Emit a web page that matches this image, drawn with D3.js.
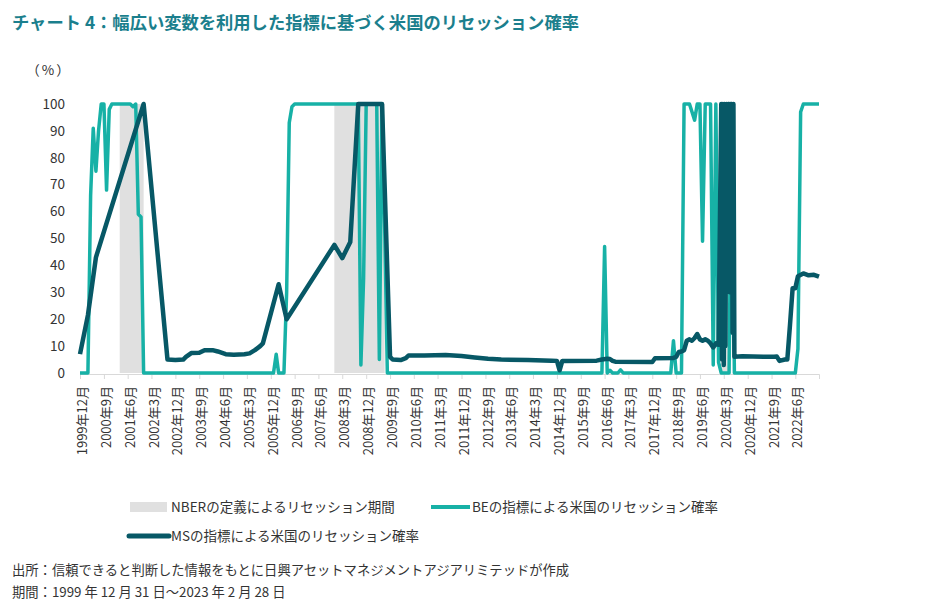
<!DOCTYPE html>
<html>
<head>
<meta charset="utf-8">
<script src="https://cdn.jsdelivr.net/npm/d3@7"></script>
<style>
  body { margin: 0; background: #ffffff; }
  svg { display: block; font-family: "Noto Sans CJK JP", "Noto Sans", sans-serif; }
</style>
</head>
<body>
<svg id="chart" width="945" height="610"></svg>
<script>
// ---------------- DATA ----------------
const titleText = "チャート 4：幅広い変数を利用した指標に基づく米国のリセッション確率";
const yUnitLabel = "（%）";
const yTickValues = [0, 10, 20, 30, 40, 50, 60, 70, 80, 90, 100];
const xTickMonths = ["1999-12","2000-09","2001-06","2002-03","2002-12","2003-09","2004-06","2005-03",
  "2005-12","2006-09","2007-06","2008-03","2008-12","2009-09","2010-06","2011-03","2011-12","2012-09",
  "2013-06","2014-03","2014-12","2015-09","2016-06","2017-03","2017-12","2018-09","2019-06","2020-03",
  "2020-12","2021-09","2022-06"];
const recessionStarts = ["2001-03", "2007-12", "2020-02"];
const recessionEnds   = ["2001-11", "2009-06", "2020-04"];

// BE indicator (teal) – vertices
const beDates = ["1999-12","2000-03","2000-04","2000-05","2000-06","2000-07","2000-08","2000-09","2000-10",
  "2000-11","2000-12","2001-07","2001-08","2001-09","2001-10","2001-11","2001-12","2006-01","2006-02",
  "2006-03","2006-05","2006-06","2006-07","2006-08","2006-09","2008-09","2008-10","2008-11","2008-12",
  "2009-04","2009-05","2009-06","2009-07","2009-08","2016-05","2016-06","2016-07","2016-08","2016-09",
  "2016-11","2016-12","2017-01","2018-07","2018-08","2018-09","2018-11","2018-12","2019-02","2019-04",
  "2019-05","2019-06","2019-07","2019-08","2019-10","2019-11","2019-12","2020-01","2020-02","2020-05",
  "2020-06","2020-07","2022-06","2022-07","2022-08","2022-09","2023-02-28"];
const beValues = [0,0,66,91,75,90,100,100,68,
  98,100,100,99,100,59,58,0,0,7,
  0,0,30,93,99,100,100,3,35,100,
  100,5,100,55,0,0,47,0,1,0,
  0,1.2,0,0,12,0,0,100,100,94,
  100,100,49,100,100,3,100,4,0,0,
  100,0,0,9,97,100,100];

// MS indicator (dark) – vertices
const msDates = ["1999-12","2000-03","2000-06","2001-12","2002-09","2002-12","2003-03","2003-04","2003-06",
  "2003-09","2003-11","2004-02","2004-04","2004-07","2004-10","2005-02","2005-04","2005-06","2005-08",
  "2005-09","2006-03","2006-06","2007-12","2008-03","2008-06","2008-09","2009-06","2009-09","2009-10",
  "2010-01","2010-03","2010-04","2010-10","2011-06","2011-12","2012-05","2012-10","2013-03","2014-01",
  "2014-10","2014-12","2015-01","2015-02","2016-03","2016-05","2016-07","2016-08","2016-09","2016-10",
  "2017-12","2018-01","2018-08","2018-09","2018-10","2018-11","2018-12","2019-01","2019-02","2019-03",
  "2019-04","2019-05","2019-06","2019-07","2019-08","2019-09","2019-10","2019-11","2019-12","2020-01",
  "2020-02","2020-02-10","2020-02-20","2020-03","2020-03-10","2020-03-20","2020-04","2020-04-10",
  "2020-04-20","2020-05","2020-05-10","2020-05-20","2020-06","2020-06-10","2020-06-20","2020-07",
  "2020-10","2021-06","2021-10","2021-11","2021-12","2022-02","2022-03","2022-04","2022-05","2022-06",
  "2022-07","2022-09","2022-11","2023-01","2023-02-28"];
const msValues = [7,21.5,43,100,5,4.8,5,6,7.4,
  7.5,8.5,8.5,8,7,6.8,7,7.3,8.5,10,
  11,33,20,47.6,42.7,48.7,100,100,6,5,
  4.8,5.5,6.5,6.5,6.7,6.3,5.8,5.3,5,4.8,
  4.6,4.5,1,4.5,4.6,5,5.3,5.2,4.5,4.2,
  4.1,5.5,5.6,6,7.8,8,8.5,12,12.5,12,
  13,14.5,12.5,12,12.5,12,11,9.5,11,10.5,
  100,5,100,3,100,10,100,40,
  100,100,30,100,100,15,100,6,
  6.2,6,6,6.1,4.5,5,5,18,31.5,31.5,
  36,37,36.3,36.5,35.8];

const legendLabels = ["NBERの定義によるリセッション期間", "BEの指標による米国のリセッション確率", "MSの指標による米国のリセッション確率"];
const footerLines = ["出所：信頼できると判断した情報をもとに日興アセットマネジメントアジアリミテッドが作成",
  "期間：1999 年 12 月 31 日～2023 年 2 月 28 日"];

// ---------------- STYLE ----------------
const colBE = "#17b1a6";
const colMS = "#075866";
const colBand = "#e0e0e0";
const colText = "#333333";
const colTitle = "#1b7f8d";

const parse = s => { const p = s.split("-").map(Number); return new Date(p[0], p[1] - 1, p[2] || 1); };
const svg = d3.select("#chart");

const x = d3.scaleTime().domain([new Date(1999, 11, 1), new Date(2023, 1, 28)]).range([80, 819]);
const y = d3.scaleLinear().domain([0, 100]).range([373, 104]);

// title
svg.append("text").attr("x", 12).attr("y", 23).attr("dy", "0.35em")
  .attr("font-size", 17.3).attr("font-weight", "bold").attr("fill", colTitle).text(titleText);

// unit
svg.append("text").attr("x", 49).attr("y", 70).attr("dy", "0.35em").attr("text-anchor", "middle")
  .attr("font-size", 13.5).attr("letter-spacing", 2).attr("fill", colText).text(yUnitLabel);

// recession bands
const bands = recessionStarts.map((s, i) => ({ s: parse(s), e: d3.timeMonth.offset(parse(recessionEnds[i]), 1) }));
svg.append("g").selectAll("rect").data(bands).join("rect")
  .attr("x", d => x(d.s)).attr("width", d => x(d.e) - x(d.s))
  .attr("y", y(100)).attr("height", y(0) - y(100)).attr("fill", colBand);

// y labels
svg.append("g").selectAll("text").data(yTickValues).join("text")
  .attr("x", 65).attr("y", d => y(d)).attr("dy", "0.35em").attr("text-anchor", "end")
  .attr("font-size", 13.5).attr("fill", colText).text(d => d);

// x axis
const tickDates = xTickMonths.map(parse);
const xAxis = d3.axisBottom(x).tickValues(tickDates).tickSize(5).tickSizeOuter(5)
  .tickFormat(d => `${d.getFullYear()}年${d.getMonth() + 1}月`);
const gx = svg.append("g").attr("transform", `translate(0,${y(0) + 1})`).call(xAxis);
gx.select(".domain").attr("stroke", "#d9d9d9");
gx.selectAll(".tick line").attr("stroke", "#d9d9d9");
gx.selectAll(".tick text")
  .attr("transform", "rotate(-90)").attr("text-anchor", "end")
  .attr("x", -12).attr("y", 2).attr("dy", "0.35em")
  .attr("font-size", 13).attr("font-family", "'Noto Sans CJK JP', sans-serif").attr("fill", colText);

// lines
const line = d3.line().x(d => x(d.date)).y(d => y(d.value));
const beData = beDates.map((d, i) => ({ date: parse(d), value: beValues[i] }));
const msData = msDates.map((d, i) => ({ date: parse(d), value: msValues[i] }));
svg.append("path").datum(beData).attr("d", line).attr("fill", "none")
  .attr("stroke", colBE).attr("stroke-width", 3.5).attr("stroke-linejoin", "round");
svg.append("path").datum(msData).attr("d", line).attr("fill", "none")
  .attr("stroke", colMS).attr("stroke-width", 4.5).attr("stroke-linejoin", "round");

// legend
const lg = svg.append("g").attr("font-size", 13.5).attr("fill", colText);
lg.append("rect").attr("x", 130).attr("y", 502).attr("width", 37).attr("height", 10).attr("fill", colBand);
lg.append("text").attr("x", 171).attr("y", 507).attr("dy", "0.35em").text(legendLabels[0]);
lg.append("line").attr("x1", 431).attr("x2", 470).attr("y1", 507).attr("y2", 507)
  .attr("stroke", colBE).attr("stroke-width", 4);
lg.append("text").attr("x", 472).attr("y", 507).attr("dy", "0.35em").text(legendLabels[1]);
lg.append("line").attr("x1", 129).attr("x2", 169).attr("y1", 536).attr("y2", 536)
  .attr("stroke", colMS).attr("stroke-width", 5).attr("stroke-linecap", "round");
lg.append("text").attr("x", 171).attr("y", 536).attr("dy", "0.35em").text(legendLabels[2]);

// footer
svg.append("g").selectAll("text").data(footerLines).join("text")
  .attr("x", 12).attr("y", (d, i) => 570 + i * 22).attr("dy", "0.35em")
  .attr("font-size", 13.3).attr("fill", colText).text(d => d);
</script>
</body>
</html>
